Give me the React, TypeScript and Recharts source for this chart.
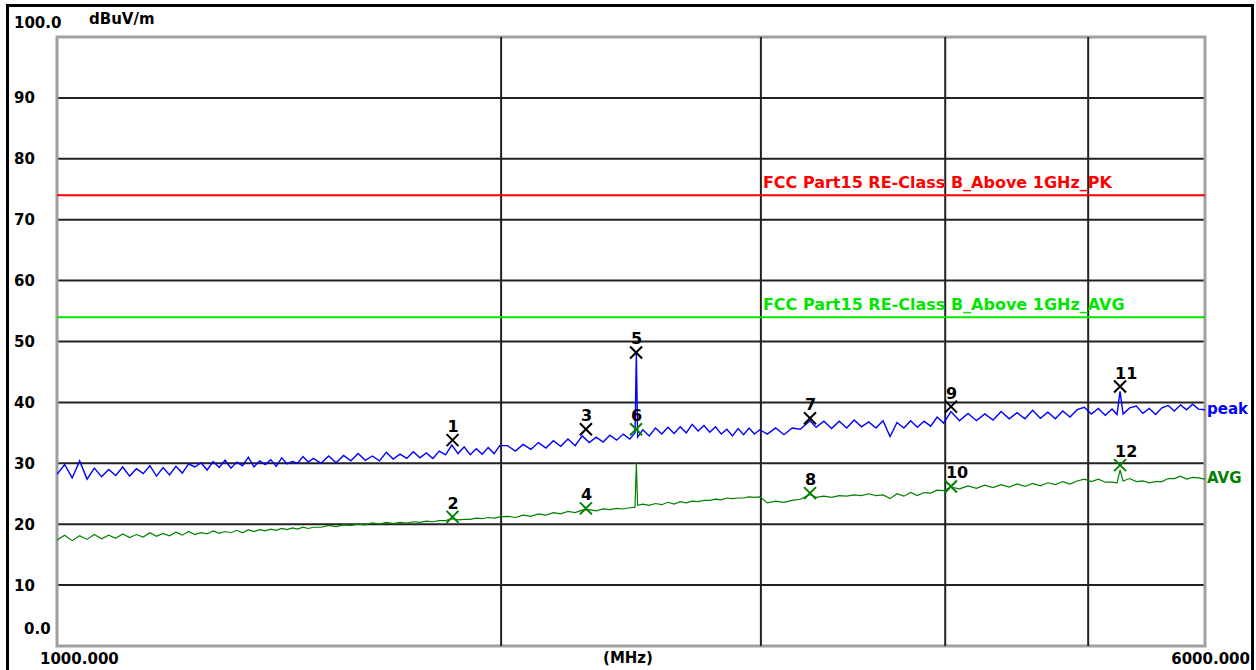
import React from "react";
import {
  ComposedChart,
  Line,
  Scatter,
  XAxis,
  YAxis,
  CartesianGrid,
  ReferenceLine,
  ReferenceArea,
  ReferenceDot,
  LabelList,
} from "recharts";

// sweep frequencies (MHz)
const FREQ = [
  1000, 1012, 1024, 1036, 1048, 1060, 1072, 1084, 1096, 1108,
  1120, 1132, 1144, 1156, 1168, 1180, 1192, 1204, 1216, 1228,
  1240, 1252, 1264, 1276, 1288, 1300, 1312, 1324, 1336, 1348,
  1360, 1372, 1384, 1396, 1408, 1420, 1432, 1444, 1456, 1468,
  1480, 1492,
  1510, 1528, 1546, 1564, 1582, 1600, 1618, 1636, 1654, 1672,
  1690, 1708, 1726, 1744, 1762, 1780, 1798, 1816, 1834, 1852,
  1870, 1888, 1906, 1924, 1942, 1960, 1978, 1996,
  2020, 2045, 2070, 2095, 2120, 2145, 2170, 2195, 2220, 2245,
  2270, 2295, 2320, 2345, 2370, 2395, 2420, 2445, 2465, 2470,
  2475, 2495, 2520, 2545, 2570, 2595, 2620, 2645, 2670, 2695,
  2720, 2745, 2770, 2795, 2820, 2845, 2870, 2895, 2920, 2945,
  2970, 2995,
  3030, 3070, 3110, 3150, 3190, 3239, 3270, 3310, 3350, 3390,
  3430, 3470, 3510, 3550, 3590, 3630, 3670, 3710, 3750, 3790,
  3830, 3870, 3910, 3950, 3990,
  4036, 4090, 4145, 4200, 4255, 4310, 4365, 4420, 4475, 4530,
  4585, 4640, 4695, 4750, 4805, 4860, 4915, 4970, 5025, 5080,
  5135, 5190, 5230, 5255, 5280, 5335, 5390, 5445, 5500, 5555,
  5610, 5665, 5720, 5775, 5830, 5885, 5940, 6000,
];

// peak detector trace (dBuV/m)
const PEAK = [
  28.2, 29.8, 27.6, 30.4, 27.4, 29.2, 27.8, 29.0, 28.0, 29.4,
  27.9, 29.1, 28.3, 29.6, 27.9, 29.3, 28.1, 29.5, 28.4, 29.9,
  29.4, 30.1, 28.9, 30.3, 29.3, 30.5, 29.2, 30.2, 29.6, 31.0,
  29.4, 30.4, 29.8, 30.6, 29.5, 30.9, 29.9, 30.3, 30.0, 31.1,
  30.2, 30.8,
  30.0, 31.2, 30.1, 31.3, 30.4, 31.6, 30.5, 31.2, 30.4, 31.8,
  30.7, 31.5, 30.8, 31.9, 30.9, 31.7, 30.8, 32.0, 31.4, 33.0,
  31.6, 32.7, 31.4, 32.4, 31.5, 32.6, 31.6, 32.9,
  32.9, 32.0, 33.1, 32.3, 33.4, 32.5, 33.7, 32.8, 34.0, 32.9,
  34.5, 33.4, 34.3, 33.5, 34.6, 33.8, 34.8, 34.0, 35.0, 48.0,
  34.3, 35.5, 34.5, 35.8, 34.8, 35.9, 34.9, 36.0, 35.0, 36.4,
  35.3, 36.2, 35.1, 36.0, 34.8, 35.6, 34.5, 35.7, 34.7, 35.8,
  34.8, 35.5,
  34.8, 35.8, 34.7, 35.8, 35.6, 37.0, 35.9, 36.9, 35.7, 36.9,
  35.8, 37.1, 36.0, 36.8, 35.8, 37.0, 34.4, 36.7, 35.8, 37.0,
  35.9, 36.9, 36.1, 37.6, 36.6,
  38.5, 37.0, 38.2, 37.0, 38.1, 37.1, 38.5, 37.3, 38.3, 37.3,
  38.7, 37.4, 38.4, 37.3, 38.6, 37.6, 38.8, 39.2, 38.1, 39.0,
  37.9, 38.9, 38.0, 41.8, 38.1, 39.1, 39.4, 38.2, 39.0, 38.0,
  39.1, 39.5, 38.6, 39.6, 38.8, 39.7, 38.9, 38.8,
];

// average detector trace (dBuV/m)
const AVG = [
  17.4, 18.2, 17.3, 18.1, 17.5, 18.3, 17.6, 18.2, 17.7, 18.4,
  17.8, 18.3, 17.9, 18.6, 18.0, 18.5, 18.1, 18.7, 18.2, 18.8,
  18.3, 18.6, 18.4, 18.9, 18.5, 18.8, 18.6, 19.0, 18.6, 19.1,
  18.8, 19.1, 18.9, 19.2, 19.0, 19.3, 19.1, 19.4, 19.2, 19.5,
  19.3, 19.5,
  19.5, 19.8, 19.6, 19.9, 19.8, 20.0, 19.9, 20.2, 20.0, 20.3,
  20.1, 20.3, 20.2, 20.4, 20.3, 20.5, 20.4, 20.6, 20.6, 20.9,
  20.7, 20.8, 20.8, 21.0, 20.9, 21.1, 21.0, 21.2,
  21.3, 21.1, 21.5, 21.3, 21.7, 21.5, 21.9, 21.7, 22.1, 21.9,
  22.3, 22.4, 22.2, 22.5, 22.4, 22.6, 22.5, 22.7, 22.8, 30.0,
  23.1, 23.3, 23.1, 23.4, 23.2, 23.6, 23.3, 23.7, 23.5, 23.8,
  23.7, 23.9, 23.9, 24.1, 24.0, 24.3, 24.2, 24.3, 24.3, 24.5,
  24.4, 24.5,
  23.5, 23.8, 23.6, 23.9, 24.1, 24.9, 24.4, 24.6, 24.4, 24.7,
  24.6, 24.8, 24.7, 25.0, 24.7, 24.8, 24.2, 25.0, 24.6, 25.2,
  24.7, 25.2, 25.1, 25.6, 25.5,
  26.1, 25.8, 26.3, 25.9, 26.4, 26.0, 26.5, 26.1, 26.6, 26.2,
  26.7, 26.3, 26.8, 26.5, 27.0, 26.6, 27.1, 27.4, 27.0, 27.4,
  26.9, 26.9, 26.8, 28.9, 27.1, 27.5, 27.0, 27.1, 26.8, 27.0,
  27.0, 27.5, 27.5, 27.9, 27.4, 27.7, 27.6, 27.4,
];

// marker table
const MARKER_FREQ = [1854, 2283, 2469, 3239, 4036, 5255];
const PEAK_MARKER_NO = [1, 3, 5, 7, 9, 11];
const PEAK_MARKER_LEVEL = [33.8, 35.6, 48.2, 37.4, 39.3, 42.6];
const AVG_MARKER_NO = [2, 4, 6, 8, 10, 12];
const AVG_MARKER_LEVEL = [21.2, 22.6, 35.6, 25.1, 26.2, 29.7];

const Y_TICKS = [0, 10, 20, 30, 40, 50, 60, 70, 80, 90, 100];
const X_TICKS = [1000, 6000];
const GRID_FREQ = [2000, 3000, 4000, 5000];
const LIMIT_PK = 74;
const LIMIT_AVG = 54;

const FONT = "'DejaVu Sans', sans-serif";
const BLUE = "#0000ff";
const GREEN = "#008000";
const LIME = "#00e600";
const RED = "#ff0000";

const peakData = FREQ.map((f, i) => ({ f, v: PEAK[i] }));
const avgData = FREQ.map((f, i) => ({ f, v: AVG[i] }));
const peakMarkers = MARKER_FREQ.map((f, i) => ({ f, v: PEAK_MARKER_LEVEL[i], n: PEAK_MARKER_NO[i] }));
const avgMarkers = MARKER_FREQ.map((f, i) => ({ f, v: AVG_MARKER_LEVEL[i], n: AVG_MARKER_NO[i] }));

const txt = { fontFamily: FONT, fontWeight: 700, fontSize: 15 };

const YTick = ({ y, payload }: any) => {
  const v = payload.value;
  if (v === 100) return <text x={14} y={y - 9} {...txt} fill="#000">100.0</text>;
  if (v === 0) return <text x={24} y={y - 12} {...txt} fill="#000">0.0</text>;
  return <text x={14} y={y + 5.5} {...txt} fill="#000">{v}</text>;
};

const XTick = ({ x, payload }: any) => {
  if (payload.value === 1000)
    return <text x={x - 17} y={664} {...txt} fill="#000">1000.000</text>;
  return <text x={x + 45} y={664} textAnchor="end" {...txt} fill="#000">6000.000</text>;
};

const markerShape = (color: string) => (props: any) => {
  const { cx, cy, payload } = props;
  return (
    <g>
      <line x1={cx - 6} y1={cy - 6} x2={cx + 6} y2={cy + 6} stroke={color} strokeWidth={2} />
      <line x1={cx - 6} y1={cy + 6} x2={cx + 6} y2={cy - 6} stroke={color} strokeWidth={2} />
      <text x={cx - 5} y={cy - 8} fontFamily={FONT} fontWeight={700} fontSize={16} fill="#000">
        {payload.n}
      </text>
    </g>
  );
};

const limitLabel = (text: string, color: string) => (props: any) => {
  const { viewBox } = props;
  return (
    <text x={viewBox.x + 2} y={viewBox.y - 7} fontFamily={FONT} fontWeight={700} fontSize={16} fill={color}>
      {text}
    </text>
  );
};

const endLabel = (text: string, color: string) => (props: any) => {
  const { x, y, index } = props;
  if (index !== FREQ.length - 1) return null;
  return (
    <text x={x + 2} y={y + 4} {...txt} fill={color}>
      {text}
    </text>
  );
};

export default function App() {
  return (
    <div style={{ position: "absolute", left: 0, top: 0, width: 1256, height: 670, overflow: "hidden", background: "#fff" }}>
      <div
        style={{
          position: "absolute",
          left: 6,
          top: 4,
          width: 1248,
          height: 700,
          border: "3px solid #000",
          boxSizing: "border-box",
        }}
      />
      <div style={{ position: "absolute", left: 0, top: 0 }}>
        <ComposedChart width={1256} height={670} margin={{ top: 37, right: 51, bottom: 0, left: 8 }}>
          <CartesianGrid vertical={false} stroke="#222" strokeWidth={2} strokeOpacity={1} />
          <XAxis
            dataKey="f"
            type="number"
            scale="log"
            domain={[1000, 6000]}
            ticks={X_TICKS}
            allowDataOverflow
            axisLine={false}
            tickLine={false}
            height={24}
            tick={<XTick />}
            label={{
              content: (p: any) => (
                <text x={p.viewBox.x + p.viewBox.width / 2 - 3} y={663} textAnchor="middle" {...txt} fill="#000">
                  (MHz)
                </text>
              ),
            }}
          />
          <YAxis
            type="number"
            domain={[0, 100]}
            ticks={Y_TICKS}
            axisLine={false}
            tickLine={false}
            width={49}
            tick={<YTick />}
            label={{
              content: () => (
                <text x={89} y={24} {...txt} fill="#000">
                  dBuV/m
                </text>
              ),
            }}
          />
          {GRID_FREQ.map((f) => (
            <ReferenceLine key={f} x={f} stroke="#222" strokeWidth={2} />
          ))}
          <ReferenceLine y={LIMIT_PK} stroke={RED} strokeWidth={2} />
          <ReferenceLine y={LIMIT_AVG} stroke={LIME} strokeWidth={2} />
          <ReferenceDot
            x={3000}
            y={LIMIT_PK}
            r={0}
            fill="none"
            stroke="none"
            label={{ content: limitLabel("FCC Part15 RE-Class B_Above 1GHz_PK", RED) }}
          />
          <ReferenceDot
            x={3000}
            y={LIMIT_AVG}
            r={0}
            fill="none"
            stroke="none"
            label={{ content: limitLabel("FCC Part15 RE-Class B_Above 1GHz_AVG", LIME) }}
          />
          <ReferenceArea
            x1={1000}
            x2={6000}
            y1={0}
            y2={100}
            fill="none"
            fillOpacity={0}
            stroke="#a0a0a0"
            strokeWidth={3}
            ifOverflow="visible"
          />
          <Line data={avgData} dataKey="v" stroke={GREEN} strokeWidth={1.2} dot={false} isAnimationActive={false}>
            <LabelList dataKey="v" content={endLabel("AVG", GREEN)} />
          </Line>
          <Line data={peakData} dataKey="v" stroke={BLUE} strokeWidth={1.4} dot={false} isAnimationActive={false}>
            <LabelList dataKey="v" content={endLabel("peak", BLUE)} />
          </Line>
          <Scatter data={peakMarkers} dataKey="v" shape={markerShape("#000")} isAnimationActive={false} />
          <Scatter data={avgMarkers} dataKey="v" shape={markerShape(GREEN)} isAnimationActive={false} />
        </ComposedChart>
      </div>
    </div>
  );
}
